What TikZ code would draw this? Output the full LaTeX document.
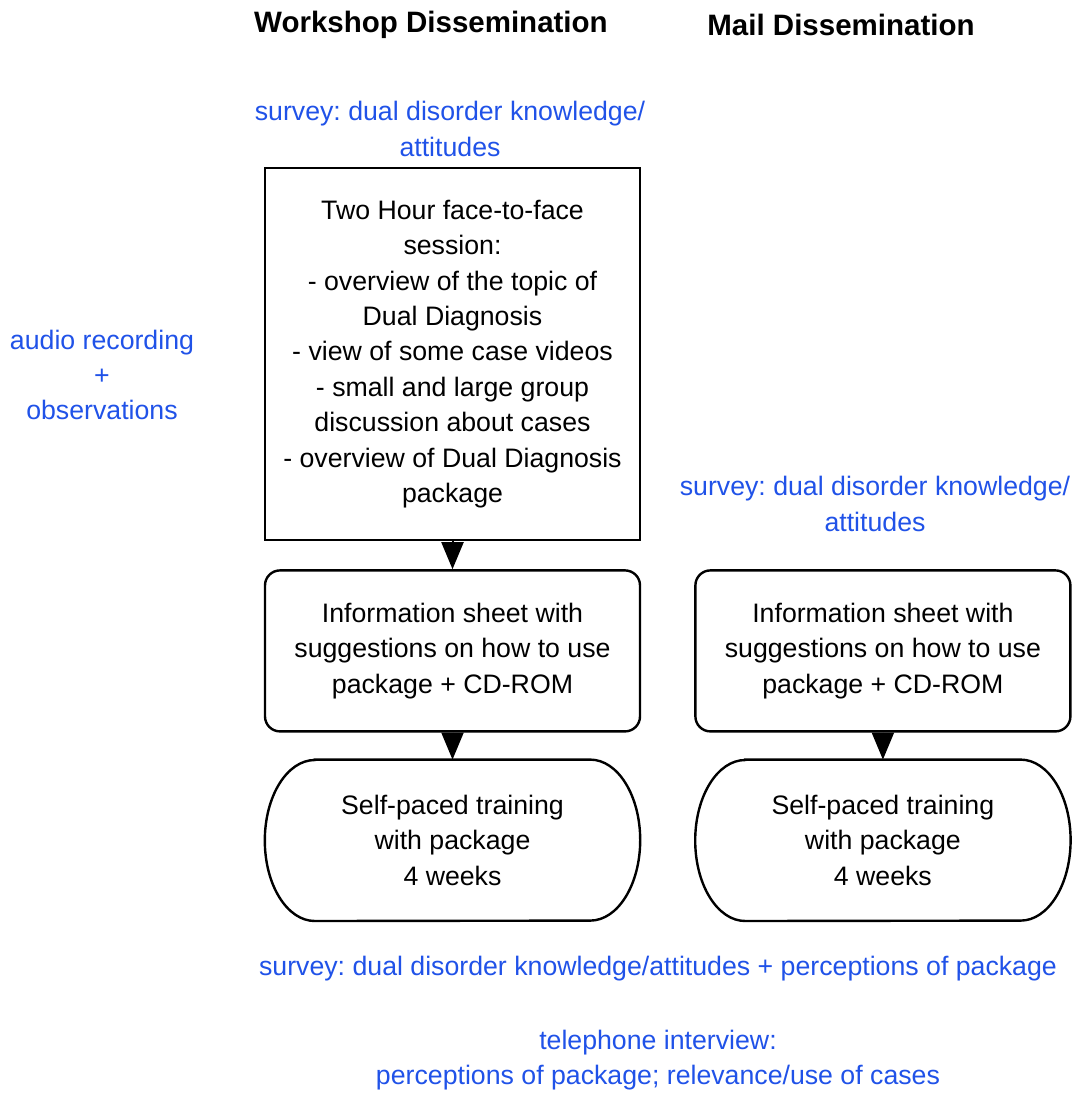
\documentclass[tikz,border=0pt]{standalone}
\usepackage{fontspec}
\setmainfont{Liberation Sans}
\usetikzlibrary{positioning,arrows.meta}
\definecolor{surveyblue}{RGB}{32,82,232}
\frenchspacing

\begin{document}
\begin{tikzpicture}[x=1pt,y=1pt,
        txt/.style={font=\fontsize{26.7}{35.4}\selectfont,align=center,inner sep=0pt},
        head/.style={font=\fontsize{29.5}{35}\selectfont\bfseries,inner sep=0pt},
        note/.style={txt,text=surveyblue},
        box/.style={txt,draw,line width=2.4pt,minimum width=375pt},
        info/.style={box,rounded corners=15pt,minimum height=161pt},
        pill/.style={txt,minimum width=375pt,minimum height=161pt},
        arr/.style={-{Triangle[length=27pt,width=22pt]},line width=2pt}]
        \useasboundingbox (0,0) rectangle (1074,-1094);
        \node[head] (wstitle) at (431,-25) {Workshop Dissemination};
        \node[head] (mailtitle) at (841,-25) {Mail Dissemination};
        \node[note] (wspre) at (450,-129) {survey: dual disorder knowledge/\\attitudes};
        \node[note] (audio) at (102,-375) {audio recording\\+\\observations};
        \node[box,minimum height=372pt] (session) at (452.5,-354)
            {Two Hour face-to-face\\session:\\- overview of the topic of\\Dual Diagnosis\\- view of some case videos\\- small and large group\\discussion about cases\\- overview of Dual Diagnosis\\package};
        \node[info,below=28pt of session] (infosheet)
            {Information sheet with\\suggestions on how to use\\package + CD-ROM};
        \node[pill,below=27pt of infosheet] (selfpaced) {Self-paced training\\with package\\4 weeks};
        \node[info,right=53pt of infosheet] (mailinfo)
            {Information sheet with\\suggestions on how to use\\package + CD-ROM};
        \node[pill,below=27pt of mailinfo] (mailself) {Self-paced training\\with package\\4 weeks};
        \node[note] (mailpre) at (875,-504) {survey: dual disorder knowledge/\\attitudes};
        \node[note] (post) at (658,-969) {survey: dual disorder knowledge/attitudes + perceptions of package};
        \node[note] (phone) at (658,-1060) {telephone interview:\\perceptions of package; relevance/use of cases};
        % rounded ends of the training boxes
        \draw[line width=2.4pt] ([xshift=50pt]selfpaced.north west) -- ([xshift=-50pt]selfpaced.north east)
            arc[start angle=90,end angle=-90,x radius=50pt,y radius=80.5pt]
            -- ([xshift=50pt]selfpaced.south west)
            arc[start angle=270,end angle=90,x radius=50pt,y radius=80.5pt] -- cycle;
        \draw[line width=2.4pt] ([xshift=50pt]mailself.north west) -- ([xshift=-50pt]mailself.north east)
            arc[start angle=90,end angle=-90,x radius=50pt,y radius=80.5pt]
            -- ([xshift=50pt]mailself.south west)
            arc[start angle=270,end angle=90,x radius=50pt,y radius=80.5pt] -- cycle;
        \draw[arr] (session) -- (infosheet);
        \draw[arr] (infosheet) -- (selfpaced);
        \draw[arr] (mailinfo) -- (mailself);
    \end{tikzpicture}
\end{document}
